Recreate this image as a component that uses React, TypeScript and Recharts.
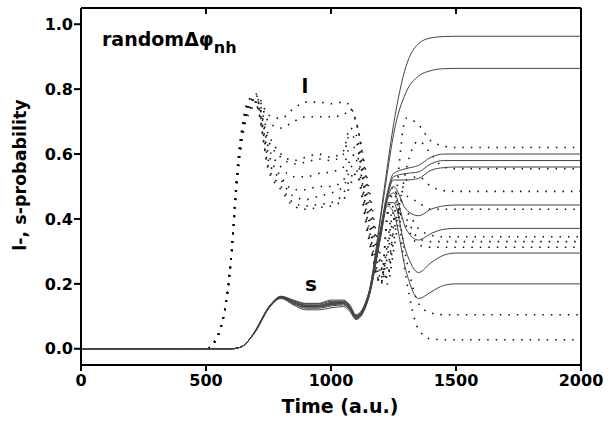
import { LineChart, Line, XAxis, YAxis, ReferenceDot, Label } from "recharts";

// time grid (a.u.)
const time = [0, 500, 550, 600, 625, 650, 675, 700, 750, 800, 850, 900, 950, 1000, 1050, 1075, 1100, 1150, 1200, 1225, 1250, 1300, 1350, 1400, 1450, 1500, 2000];

// s-probability (solid)
const s1 = [0, 0, 0, 0, 0.002, 0.01, 0.03, 0.055, 0.125, 0.162, 0.15, 0.14, 0.14, 0.15, 0.15, 0.135, 0.105, 0.17, 0.42, 0.56, 0.69, 0.87, 0.94, 0.958, 0.962, 0.963, 0.963];
const s2 = [0, 0, 0, 0, 0.002, 0.01, 0.03, 0.056, 0.126, 0.16, 0.148, 0.138, 0.138, 0.146, 0.147, 0.132, 0.102, 0.17, 0.41, 0.54, 0.66, 0.79, 0.84, 0.857, 0.863, 0.864, 0.864];
const s3 = [0, 0, 0, 0, 0.002, 0.01, 0.03, 0.057, 0.127, 0.161, 0.146, 0.135, 0.135, 0.143, 0.145, 0.13, 0.1, 0.165, 0.38, 0.48, 0.54, 0.555, 0.565, 0.59, 0.6, 0.6, 0.6];
const s4 = [0, 0, 0, 0, 0.002, 0.01, 0.03, 0.06, 0.128, 0.16, 0.145, 0.133, 0.133, 0.141, 0.143, 0.128, 0.098, 0.165, 0.37, 0.47, 0.53, 0.54, 0.545, 0.57, 0.58, 0.58, 0.58];
const s5 = [0, 0, 0, 0, 0.002, 0.01, 0.03, 0.058, 0.127, 0.159, 0.143, 0.131, 0.131, 0.139, 0.141, 0.126, 0.097, 0.16, 0.37, 0.47, 0.52, 0.52, 0.525, 0.55, 0.558, 0.56, 0.56];
const s6 = [0, 0, 0, 0, 0.002, 0.01, 0.03, 0.059, 0.126, 0.158, 0.142, 0.13, 0.13, 0.137, 0.14, 0.124, 0.096, 0.16, 0.36, 0.46, 0.5, 0.43, 0.41, 0.43, 0.44, 0.443, 0.443];
const s7 = [0, 0, 0, 0, 0.002, 0.01, 0.03, 0.058, 0.125, 0.157, 0.14, 0.128, 0.128, 0.135, 0.138, 0.122, 0.095, 0.16, 0.36, 0.46, 0.48, 0.37, 0.335, 0.355, 0.368, 0.371, 0.371];
const s8 = [0, 0, 0, 0, 0.002, 0.01, 0.03, 0.057, 0.124, 0.156, 0.138, 0.125, 0.125, 0.132, 0.135, 0.12, 0.093, 0.155, 0.35, 0.45, 0.45, 0.3, 0.235, 0.265, 0.288, 0.295, 0.295];
const s9 = [0, 0, 0, 0, 0.002, 0.01, 0.03, 0.056, 0.123, 0.155, 0.135, 0.12, 0.12, 0.126, 0.13, 0.115, 0.09, 0.155, 0.35, 0.44, 0.42, 0.24, 0.155, 0.175, 0.195, 0.2, 0.2];

// l-probability (dotted)
const l1 = [0, 0, 0.045, 0.28, 0.55, 0.71, 0.77, 0.785, 0.72, 0.71, 0.74, 0.76, 0.76, 0.755, 0.76, 0.75, 0.7, 0.5, 0.28, 0.22, 0.38, 0.71, 0.69, 0.64, 0.625, 0.62, 0.62];
const l2 = [0, 0, 0.045, 0.28, 0.55, 0.71, 0.77, 0.78, 0.7, 0.68, 0.7, 0.715, 0.715, 0.715, 0.72, 0.74, 0.7, 0.48, 0.26, 0.2, 0.3, 0.55, 0.64, 0.6, 0.56, 0.555, 0.555];
const l3 = [0, 0, 0.045, 0.28, 0.55, 0.7, 0.76, 0.775, 0.66, 0.6, 0.58, 0.59, 0.6, 0.59, 0.61, 0.68, 0.66, 0.45, 0.25, 0.22, 0.33, 0.52, 0.53, 0.5, 0.487, 0.485, 0.485];
const l4 = [0, 0, 0.045, 0.28, 0.54, 0.7, 0.76, 0.77, 0.64, 0.59, 0.57, 0.575, 0.585, 0.58, 0.6, 0.66, 0.64, 0.42, 0.24, 0.25, 0.36, 0.47, 0.45, 0.43, 0.43, 0.43, 0.43];
const l5 = [0, 0, 0.045, 0.27, 0.54, 0.69, 0.75, 0.77, 0.62, 0.56, 0.53, 0.53, 0.54, 0.545, 0.56, 0.62, 0.62, 0.4, 0.22, 0.28, 0.4, 0.42, 0.37, 0.35, 0.345, 0.345, 0.345];
const l6 = [0, 0, 0.045, 0.27, 0.53, 0.69, 0.75, 0.76, 0.6, 0.53, 0.49, 0.49, 0.5, 0.5, 0.52, 0.58, 0.6, 0.38, 0.22, 0.3, 0.42, 0.4, 0.34, 0.33, 0.33, 0.33, 0.33];
const l7 = [0, 0, 0.045, 0.27, 0.53, 0.68, 0.74, 0.76, 0.58, 0.52, 0.47, 0.46, 0.47, 0.48, 0.5, 0.55, 0.58, 0.36, 0.2, 0.32, 0.44, 0.38, 0.32, 0.313, 0.313, 0.313, 0.313];
const l8 = [0, 0, 0.045, 0.27, 0.52, 0.68, 0.74, 0.75, 0.56, 0.5, 0.45, 0.44, 0.445, 0.45, 0.48, 0.52, 0.55, 0.35, 0.2, 0.4, 0.48, 0.28, 0.14, 0.11, 0.105, 0.105, 0.105];
const l9 = [0, 0, 0.045, 0.27, 0.52, 0.67, 0.73, 0.75, 0.55, 0.49, 0.44, 0.43, 0.435, 0.44, 0.46, 0.5, 0.54, 0.34, 0.2, 0.42, 0.5, 0.22, 0.06, 0.03, 0.028, 0.028, 0.028];

const xTicks = [0, 500, 1000, 1500, 2000];
const yTicks = [0, 0.2, 0.4, 0.6, 0.8, 1.0];

const sList = [s1, s2, s3, s4, s5, s6, s7, s8, s9];
const lList = [l1, l2, l3, l4, l5, l6, l7, l8, l9];

const rows = time.map((t, i) => {
  const row: Record<string, number> = { t };
  sList.forEach((s, k) => (row[`s${k}`] = s[i]));
  lList.forEach((l, k) => (row[`l${k}`] = l[i]));
  return row;
});

const FONT = "'DejaVu Sans', Arial, sans-serif";
const tickStyle = { fill: "#000", fontSize: 16, fontWeight: 700, fontFamily: FONT };
const axisStroke = { stroke: "#000", strokeWidth: 2 };

function Annot({ viewBox, text, size }: any) {
  if (!viewBox) return null;
  return (
    <text x={viewBox.x} y={viewBox.y} textAnchor="middle" dominantBaseline="central" fontFamily={FONT} fontWeight={700} fontSize={size} fill="#000">
      {text}
    </text>
  );
}

function PhaseNote({ viewBox }: any) {
  if (!viewBox) return null;
  return (
    <text x={viewBox.x} y={viewBox.y} fontFamily={FONT} fontWeight={700} fontSize={19} fill="#000">
      randomΔφ
      <tspan dy={7} fontSize={16}>nh</tspan>
    </text>
  );
}

export default function App() {
  return (
    <div style={{ position: "absolute", left: 0, top: 0, width: 610, height: 424, background: "#fff" }}>
      <LineChart width={610} height={424} data={rows} margin={{ top: 8, right: 29, left: 0, bottom: 0 }}>
        <XAxis
          xAxisId="b"
          dataKey="t"
          type="number"
          domain={[0, 2000]}
          ticks={xTicks}
          height={59}
          tickSize={6}
          tickMargin={4}
          axisLine={axisStroke}
          tickLine={axisStroke}
          tick={tickStyle}
        >
          <Label value="Time (a.u.)" position="insideBottom" offset={11} dx={9} style={{ fontFamily: FONT, fontWeight: 700, fontSize: 19, fill: "#000" }} />
        </XAxis>
        <XAxis
          xAxisId="t"
          dataKey="t"
          type="number"
          orientation="top"
          mirror
          domain={[0, 2000]}
          ticks={xTicks}
          tickSize={6}
          axisLine={axisStroke}
          tickLine={axisStroke}
          tickFormatter={() => ""}
        />
        <YAxis
          yAxisId="l"
          type="number"
          domain={[-0.05, 1.05]}
          ticks={yTicks}
          width={81}
          tickSize={7}
          tickMargin={1}
          axisLine={axisStroke}
          tickLine={axisStroke}
          tick={tickStyle}
          tickFormatter={(v: number) => v.toFixed(1)}
        >
          <Label
            content={() => (
              <text x={26} y={175} transform="rotate(-90, 26, 175)" textAnchor="middle" fontFamily={FONT} fontWeight={700} fontSize={17.5} fill="#000">
                l-, s-probability
              </text>
            )}
          />
        </YAxis>
        <YAxis
          yAxisId="r"
          type="number"
          orientation="right"
          mirror
          domain={[-0.05, 1.05]}
          ticks={yTicks}
          tickSize={6}
          axisLine={axisStroke}
          tickLine={axisStroke}
          tickFormatter={() => ""}
        />
        {lList.map((_, k) => (
          <Line
            key={`l${k}`}
            xAxisId="b"
            yAxisId="l"
            type="monotone"
            dataKey={`l${k}`}
            stroke="#111"
            strokeWidth={1.6}
            strokeDasharray="1.5 7"
            dot={false}
            isAnimationActive={false}
          />
        ))}
        {sList.map((_, k) => (
          <Line
            key={`s${k}`}
            xAxisId="b"
            yAxisId="l"
            type="monotone"
            dataKey={`s${k}`}
            stroke="#444"
            strokeWidth={1}
            dot={false}
            isAnimationActive={false}
          />
        ))}
        <ReferenceDot xAxisId="b" yAxisId="l" x={84} y={0.932} r={0} fill="none" stroke="none" label={<PhaseNote />} />
        <ReferenceDot xAxisId="b" yAxisId="l" x={896} y={0.811} r={0} fill="none" stroke="none" label={<Annot text="l" size={20} />} />
        <ReferenceDot xAxisId="b" yAxisId="l" x={920} y={0.199} r={0} fill="none" stroke="none" label={<Annot text="s" size={20} />} />
      </LineChart>
    </div>
  );
}
